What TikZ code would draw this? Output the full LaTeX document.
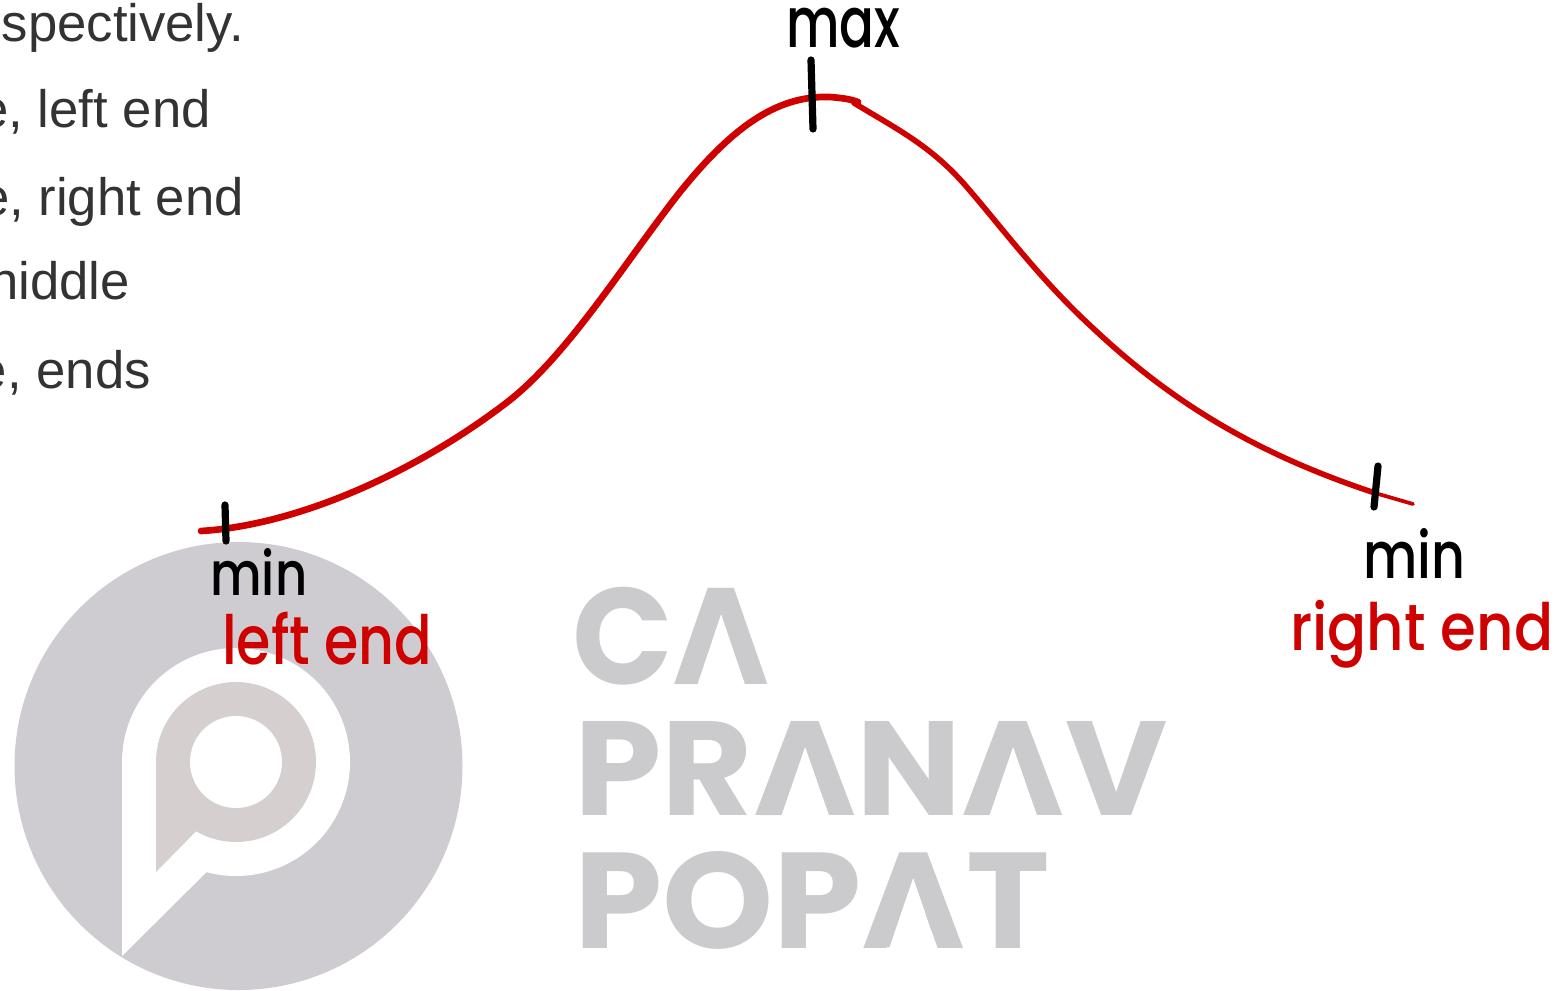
\documentclass[tikz,border=0pt]{standalone}
\usepackage{fontspec}
\usepackage{graphicx}
\setmainfont{Liberation Sans}
\newfontfamily\handfont{Poppins Medium}
\newfontfamily\logofont{Poppins Bold}
\newlength\pxu
\setlength\pxu{0.75pt}
\definecolor{curvered}{HTML}{CE0000}
\definecolor{logodisc}{HTML}{CECCD1}
\definecolor{logoring}{HTML}{D6CFD0}
\definecolor{logotext}{HTML}{CBCBCD}
\definecolor{notetext}{HTML}{333333}
\tikzset{
  redcurve/.style={draw=curvered,line cap=round,line join=round},
  tick/.style={draw=black,line width=5.4pt,line cap=round},
  notes/.style={anchor=base east,inner sep=0pt,text=notetext,font=\fontsize{39.5}{39.5}\selectfont},
  hand/.style={anchor=north west,inner sep=0pt,font=\handfont},
  logoword/.style={anchor=north west,inner sep=0pt,text=logotext,font=\logofont}
}
% left, top, width, height in reference pixels
\newcommand{\fitted}[7]{\node[#1] (#2) at (#3,#4) {\resizebox*{#5\pxu}{#6\pxu}{#7}};}
% opens the inside of a logo letter A: centre x, top y, apex y, baseline y
\newcommand{\openA}[4]{%
  \fill[white] (#1,#3) -- (#1-27,#4+2) -- (#1+24.5,#4+2) -- cycle;
  \fill[logotext] (#1-45,#4) -- (#1-23.5,#4) -- (#1,#3) -- (#1-13,#2) -- cycle;}
\begin{document}
\begin{tikzpicture}[x=0.75pt,y=-0.75pt]
\useasboundingbox (0,0) rectangle (1565,990);
% logo disc
\fill[logodisc] (238.5,766) circle[radius=224];
\fill[white] (122,762) arc[start angle=180,end angle=465,radius=114]
  -- (122,956) -- cycle;
\fill[logoring] (156,762) arc[start angle=180,end angle=480,radius=80]
  -- (156,872) -- cycle;
\fill[white] (236,762) circle[radius=46];
% logo words
\fitted{logoword}{wca}{572}{587}{198}{98}{CA}
\fitted{logoword}{wpranav}{574}{721}{593}{94}{PRANAV}
\fitted{logoword}{wpopat}{574}{851}{475}{98}{POPAT}
\openA{721}{589}{614}{684}
\openA{805}{722}{747}{815}
\openA{1013}{722}{747}{815}
\openA{913}{853}{878}{947}
% notes cut by the left edge
\node[notes] (n1) at (244,41) {spectively.};
\node[notes] (n2) at (211,127) {e, left end};
\node[notes] (n3) at (244,215) {e, right end};
\node[notes] (n4) at (130,299) {niddle};
\node[notes] (n5) at (151,388) {e, ends};
% curve
\draw[redcurve,line width=5pt] (201,531) .. controls (300,525) and (420,470) .. (510,400)
  .. controls (570,352) and (625,262) .. (680,192)
  .. controls (730,130) and (775,95) .. (830,97)
  .. controls (842,98) and (850,99) .. (858,102);
\draw[redcurve,line width=4.2pt] (854,103) .. controls (895,128) and (930,145) .. (965,185)
  .. controls (1000,225) and (1040,280) .. (1095,330)
  .. controls (1175,405) and (1260,455) .. (1375,493);
\draw[redcurve,line width=2.8pt] (1375,493) -- (1413,504);
% ticks
\draw[tick] (225,505) -- (226,541);
\draw[tick] (811,60) -- (813,129);
\draw[tick] (1378,466) -- (1374,507);
% handwritten labels
\fitted{hand}{lmax}{786}{8}{114}{40}{max}
\fitted{hand}{lminl}{210}{548}{97}{47}{min}
\fitted{hand,text=curvered}{lleft}{222}{612}{210}{53}{left end}
\fitted{hand}{lminr}{1363}{528}{102}{50}{min}
\fitted{hand,text=curvered}{lright}{1290}{600}{263}{68}{right end}
\end{tikzpicture}
\end{document}
